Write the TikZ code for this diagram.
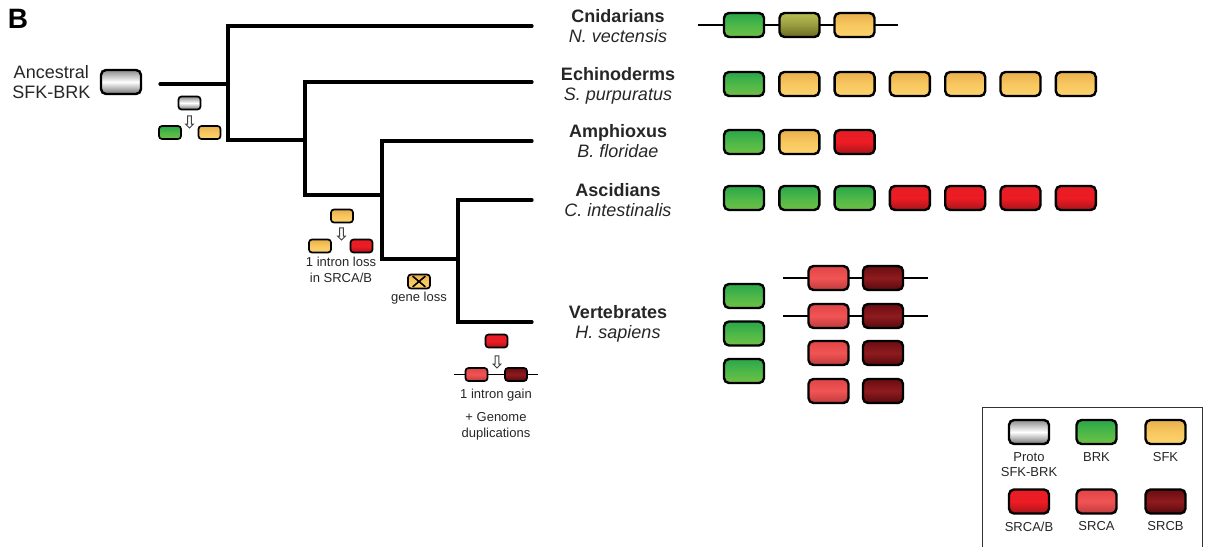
\documentclass[tikz,border=0pt]{standalone}
\usepackage{fontspec}
\setmainfont{Liberation Sans}
\usetikzlibrary{positioning, shapes.arrows, shapes.misc}

\definecolor{brktop}{HTML}{2AA64A}
\definecolor{brkmid}{HTML}{4DB848}
\definecolor{brkbot}{HTML}{70C046}
\definecolor{sfktop}{HTML}{E8B04E}
\definecolor{sfkmid}{HTML}{F8C760}
\definecolor{sfkbot}{HTML}{FCD36E}
\definecolor{olvtop}{HTML}{B8BF52}
\definecolor{olvbot}{HTML}{6A6822}
\definecolor{srcabtop}{HTML}{E41D25}
\definecolor{srcabmid}{HTML}{EE1C24}
\definecolor{srcabbot}{HTML}{A8151B}
\definecolor{srcatop}{HTML}{E04446}
\definecolor{srcamid}{HTML}{F05454}
\definecolor{srcabot}{HTML}{C03A3C}
\definecolor{srcbtop}{HTML}{6A0D11}
\definecolor{srcbmid}{HTML}{8E1B1F}
\definecolor{srcbbot}{HTML}{580A0D}

\begin{document}
\begin{tikzpicture}[
  x=1pt, y=-1pt,
  branch/.style={line width=3.2pt, line cap=round},
  gene/.style={draw, line width=2.4pt, rounded corners=5pt, minimum width=40pt,
    minimum height=24pt, inner sep=0pt},
  mini/.style={draw, line width=1.7pt, rounded corners=3pt, minimum width=22pt,
    minimum height=13pt, inner sep=0pt},
  proto/.style={top color=black!45, bottom color=black!55, middle color=white},
  brk/.style={top color=brktop, bottom color=brkbot, middle color=brkmid},
  sfk/.style={top color=sfktop, bottom color=sfkbot, middle color=sfkmid},
  olv/.style={top color=olvtop, bottom color=olvbot, middle color=olvtop!60!olvbot},
  srcab/.style={top color=srcabtop, bottom color=srcabbot, middle color=srcabmid},
  srca/.style={top color=srcatop, bottom color=srcabot, middle color=srcamid},
  srcb/.style={top color=srcbtop, bottom color=srcbbot, middle color=srcbmid},
  chrom/.style={line width=1.5pt},
  down/.style={single arrow, draw=black!75, fill=white, line width=0.9pt,
    shape border rotate=270, minimum height=12pt, inner sep=1.4pt,
    single arrow head extend=2pt},
  taxon/.style={align=center, font=\fontsize{18}{20}\selectfont, text=black!85},
  note/.style={align=center, font=\fontsize{13}{16}\selectfont, text=black!85},
  key/.style={align=center, font=\fontsize{13}{15.5}\selectfont, text=black!85,
    inner sep=0pt},
]
  \useasboundingbox (0,0) rectangle (1206,546);

  \node (panel) at (18,19) {\fontsize{28}{30}\selectfont\bfseries B};

  % tree
  \coordinate (root) at (160,84);
  \coordinate (n1)   at (228,84);
  \coordinate (n2)   at (305,140);
  \coordinate (n3)   at (382,195);
  \coordinate (n4)   at (458,259);
  \coordinate (cni)  at (532,26);
  \coordinate (ech)  at (532,82);
  \coordinate (amp)  at (532,141);
  \coordinate (asc)  at (532,200);
  \coordinate (vert) at (532,322);

  \draw[branch] (root) -- (n1);
  \draw[branch] (n1) |- (cni);
  \draw[branch] (n1) |- (n2);
  \draw[branch] (n2) |- (ech);
  \draw[branch] (n2) |- (n3);
  \draw[branch] (n3) |- (amp);
  \draw[branch] (n3) |- (n4);
  \draw[branch] (n4) |- (asc);
  \draw[branch] (n4) |- (vert);

  % taxa
  \node[taxon] (cnilab)  at (618,28)  {\textbf{Cnidarians}\strut\\\textit{N. vectensis}\strut};
  \node[taxon] (echlab)  at (618,86)  {\textbf{Echinoderms}\strut\\\textit{S. purpuratus}\strut};
  \node[taxon] (amplab)  at (618,143) {\textbf{Amphioxus}\strut\\\textit{B. floridae}\strut};
  \node[taxon] (asclab)  at (618,202) {\textbf{Ascidians}\strut\\\textit{C. intestinalis}\strut};
  \node[taxon] (vertlab) at (618,324) {\textbf{Vertebrates}\strut\\\textit{H. sapiens}\strut};

  % ancestral gene
  \node[gene, proto] (anc) at (121,82) {};
  \node[align=center, font=\fontsize{18}{19.5}\selectfont, text=black!85, left=6pt of anc]
    (anclab) {Ancestral\\SFK-BRK};

  % first duplication
  \node[mini, proto] (dup1) at (189.5,103) {};
  \node[down] (dup1arr) at (189.5,121) {};
  \node[mini, brk] (dup1brk) at (170,132.5) {};
  \node[mini, sfk] (dup1sfk) at (209.5,132.5) {};

  % intron loss
  \node[mini, sfk] (loss) at (342,216) {};
  \node[down] (lossarr) at (341.5,233) {};
  \node[mini, sfk] (losssfk) at (320,246) {};
  \node[mini, srcab] (losssrc) at (361.5,246) {};
  \node[note] (losslab) at (341,269.5) {1 intron loss\\in SRCA/B};

  % gene loss
  \node[mini, sfk, minimum width=22pt, minimum height=14pt] (gl) at (419,281.5) {};
  \node[draw, cross out, line width=1.6pt, minimum width=11pt, minimum height=9pt,
    inner sep=0pt] (glx) at (gl) {};
  \node[note] (gllab) at (419,298) {gene loss};

  % intron gain
  \node[mini, srcab] (gain) at (496.5,341) {};
  \node[down] (gainarr) at (497,361) {};
  \coordinate (gainl) at (454,374.5);
  \coordinate (gainr) at (538,374.5);
  \draw[chrom] (gainl) -- (gainr);
  \node[mini, srca] (gainsrca) at (476.5,374.5) {};
  \node[mini, srcb] (gainsrcb) at (516,374.5) {};
  \node[note] (gainlab) at (496,395) {1 intron gain};
  \node[note] (genlab) at (496,426) {+ Genome\\duplications};

  % Cnidarians
  \coordinate (cnil) at (698,25);
  \coordinate (cnir) at (898,25);
  \draw[chrom] (cnil) -- (cnir);
  \node[gene, brk] (cni-0) at (744,25) {};
  \node[gene, olv] (cni-1) at (799.5,25) {};
  \node[gene, sfk] (cni-2) at (854.5,25) {};

  % Echinoderms
  \node[gene, brk] (ech-0) at (744,84) {};
  \foreach \i in {1,...,6}
    \node[gene, sfk] (ech-\i) at (744+55.3*\i,84) {};

  % Amphioxus
  \node[gene, brk] (amp-0) at (744,142) {};
  \node[gene, sfk] (amp-1) at (799.3,142) {};
  \node[gene, srcab] (amp-2) at (854.6,142) {};

  % Ascidians
  \foreach \i in {0,1,2}
    \node[gene, brk] (asc-\i) at (744+55.3*\i,198) {};
  \foreach \i in {3,...,6}
    \node[gene, srcab] (asc-\i) at (744+55.3*\i,198) {};

  % Vertebrates
  \foreach \i/\y in {0/296,1/333.5,2/371}
    \node[gene, brk] (vbrk-\i) at (744,\y) {};
  \coordinate (vl-0) at (783,278);
  \coordinate (vr-0) at (928,278);
  \coordinate (vl-1) at (783,316);
  \coordinate (vr-1) at (928,316);
  \draw[chrom] (vl-0) -- (vr-0);
  \draw[chrom] (vl-1) -- (vr-1);
  \foreach \i/\y in {0/278,1/316,2/353,3/391}{
    \node[gene, srca] (vsrca-\i) at (828.5,\y) {};
    \node[gene, srcb] (vsrcb-\i) at (883,\y) {};
  }

  % legend
  \draw[line width=1pt, black!80] (982,560) |- (1202,407) -- (1202,560);
  \node[gene, proto] (keyproto) at (1029,432) {};
  \node[gene, brk]   (keybrk)   at (1096.5,432) {};
  \node[gene, sfk]   (keysfk)   at (1165.5,432) {};
  \node[gene, srcab] (keysrcab) at (1029,501.5) {};
  \node[gene, srca]  (keysrca)  at (1096.5,501.5) {};
  \node[gene, srcb]  (keysrcb)  at (1165.5,501.5) {};
  \node[key, below=7pt of keyproto] (keyprotolab) {Proto\\SFK-BRK};
  \node[key, below=7pt of keybrk]   (keybrklab)   {BRK};
  \node[key, below=7pt of keysfk]   (keysfklab)   {SFK};
  \node[key, below=7pt of keysrcab] (keysrcablab) {SRCA/B};
  \node[key, below=7pt of keysrca]  (keysrcalab)  {SRCA};
  \node[key, below=7pt of keysrcb]  (keysrcblab)  {SRCB};
\end{tikzpicture}
\end{document}
